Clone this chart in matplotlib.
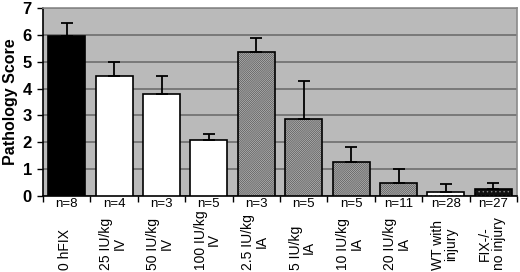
import matplotlib
matplotlib.use("Agg")
import matplotlib.pyplot as plt

plt.rcParams['font.family'] = ['Liberation Sans', 'DejaVu Sans']
plt.rcParams['hatch.linewidth'] = 0.5

# data
categories = ['0 hFIX', '25 IU/kg\nIV', '50 IU/kg\nIV', '100 IU/kg\nIV',
              '2.5 IU/kg\nIA', '5 IU/kg\nIA', '10 IU/kg\nIA', '20 IU/kg\nIA',
              'WT with\ninjury', 'FIX-/-\nno injury']
n_labels = ['n=8', 'n=4', 'n=3', 'n=5', 'n=3', 'n=5', 'n=5', 'n=11', 'n=28', 'n=27']
scores = [5.95, 4.46, 3.78, 2.1, 5.35, 2.88, 1.27, 0.5, 0.15, 0.27]
errors = [0.5, 0.52, 0.68, 0.2, 0.55, 1.4, 0.56, 0.5, 0.3, 0.23]

faces = ['black', 'white', 'white', 'white', '#b8b8b8', '#b8b8b8', '#b8b8b8', '#b8b8b8',
         'white', '#111111']
hatches = [None, None, None, None, '/' * 16, '/' * 16, '/' * 16, '/' * 16, '....', '....']
hatch_colors = ['black', 'black', 'black', 'black', '#555555', '#555555', '#555555', '#555555',
                '#909090', '#8a8a8a']

fig = plt.figure(figsize=(5.2, 2.72), dpi=100)
ax = fig.add_axes([43 / 520, 76 / 272, 474 / 520, 188 / 272])
ax.set_facecolor('#bababa')

x = list(range(len(scores)))
for i in x:
    ax.bar(i, scores[i], width=0.78, color=faces[i], edgecolor=hatch_colors[i],
           hatch=hatches[i], linewidth=0, zorder=3)
    ax.bar(i, scores[i], width=0.78, fill=False, edgecolor='black', linewidth=1.2, zorder=4)
ax.errorbar(x, scores, yerr=[[0] * len(errors), errors], fmt='none', ecolor='black',
            elinewidth=1.3, capsize=4.5, capthick=1.3, zorder=5)

ax.set_xlim(-0.5, len(scores) - 0.5)
ax.set_ylim(0, 7)
ax.set_yticks(range(8))
ax.set_yticklabels([str(v) for v in range(8)], fontsize=12, fontweight='bold')
ax.yaxis.grid(True, color='#6e6e6e', linewidth=1.2, zorder=1)
ax.set_axisbelow(True)
ax.set_xticks([i + 0.5 for i in range(-1, len(scores))])
ax.set_xticklabels([])
ax.tick_params(axis='x', length=4, width=1, direction='out')
ax.tick_params(axis='y', length=4, width=1, direction='out', pad=4)

for side in ['top', 'right']:
    ax.spines[side].set_color('#8a8a8a')
    ax.spines[side].set_linewidth(1.2)
for side in ['left', 'bottom']:
    ax.spines[side].set_color('black')
    ax.spines[side].set_linewidth(1.2)

ax.set_ylabel('Pathology Score', fontsize=11.5, fontweight='bold', labelpad=3)

trans = ax.get_xaxis_transform()
for i in x:
    ax.text(i, -0.012, n_labels[i], transform=trans, ha='center', va='top', fontsize=9.5)
    ax.text(i - 0.03, -0.392, categories[i], transform=trans, ha='center', va='bottom',
            rotation=90, multialignment='center', fontsize=10, linespacing=0.95)

fig.savefig('out.png', dpi=100)
